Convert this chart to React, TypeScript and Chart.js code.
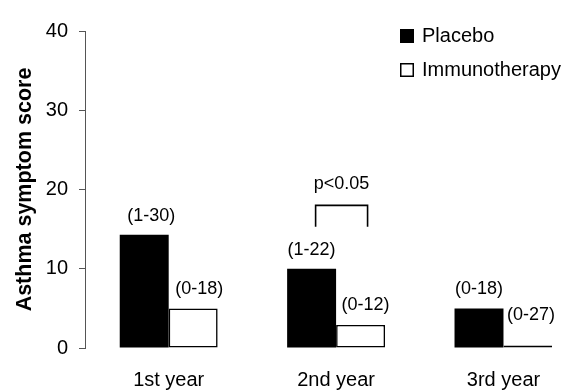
import React, { useEffect, useRef } from "react";
import { Chart, registerables } from "chart.js";

Chart.register(...registerables);

const categories = ["1st year", "2nd year", "3rd year"];
const placebo = [14.3, 10.0, 5.0];
const immunotherapy = [5.0, 2.9, 0.3];
const placeboRanges = ["(1-30)", "(1-22)", "(0-18)"];
const immunoRanges = ["(0-18)", "(0-12)", "(0-27)"];
const yTickStep = 10;
const yMax = 40;
const sigGroup = 1;
const sigText = "p<0.05";
const sigBracketTop = 18;
const sigBracketBottom = 15.3;
const sigTextValue = 20.7;

// label offsets (style): [dx, dy] relative to bar top centre
const placeboLabelOffsets = [[7, -19], [0, -19], [0, -19]];
const immunoLabelOffsets = [[6, -19], [5, -20], [3, -31]];

const FONT = "'Liberation Sans', Arial, Helvetica, sans-serif";

const annotationPlugin = {
  id: "annotations",
  afterDatasetsDraw(chart: any) {
    const ctx = chart.ctx;
    ctx.save();
    ctx.fillStyle = "#000";
    ctx.font = `18px ${FONT}`;
    ctx.textAlign = "center";
    ctx.textBaseline = "middle";
    const sets = [
      { meta: chart.getDatasetMeta(0), labels: placeboRanges, offs: placeboLabelOffsets },
      { meta: chart.getDatasetMeta(1), labels: immunoRanges, offs: immunoLabelOffsets },
    ];
    sets.forEach(({ meta, labels, offs }) => {
      meta.data.forEach((el: any, i: number) => {
        ctx.fillText(labels[i], el.x + offs[i][0], el.y + offs[i][1]);
      });
    });
    // significance bracket
    const yScale = chart.scales.y;
    const a = chart.getDatasetMeta(0).data[sigGroup];
    const b = chart.getDatasetMeta(1).data[sigGroup];
    const x1 = a.x + 4;
    const x2 = b.x + 7;
    const yTop = yScale.getPixelForValue(sigBracketTop);
    const yBot = yScale.getPixelForValue(sigBracketBottom);
    ctx.strokeStyle = "#000";
    ctx.lineWidth = 1.6;
    ctx.beginPath();
    ctx.moveTo(x1, yBot);
    ctx.lineTo(x1, yTop);
    ctx.lineTo(x2, yTop);
    ctx.lineTo(x2, yBot);
    ctx.stroke();
    ctx.fillText(sigText, (x1 + x2) / 2, yScale.getPixelForValue(sigTextValue));

    // legend
    const items = chart.data.datasets;
    const lx = 392;
    const rowsY = [28, 62];
    ctx.textAlign = "left";
    ctx.font = `20px ${FONT}`;
    items.forEach((ds: any, i: number) => {
      const cy = rowsY[i];
      ctx.fillStyle = ds.backgroundColor;
      ctx.fillRect(lx, cy - 7, 14, 14);
      ctx.strokeStyle = "#000";
      ctx.lineWidth = 1.5;
      ctx.strokeRect(lx + 0.75, cy - 6.25, 12.5, 12.5);
      ctx.fillStyle = "#000";
      ctx.fillText(ds.label, lx + 22, cy);
    });
    ctx.restore();
  },
};

export default function App() {
  const ref = useRef<HTMLCanvasElement | null>(null);
  useEffect(() => {
    if (!ref.current) return;
    const chart = new Chart(ref.current, {
      type: "bar",
      data: {
        datasets: [
          {
            label: "Placebo",
            data: placebo.map((v, i) => ({ x: i, y: v })),
            backgroundColor: "#000000",
            borderColor: "#000000",
            borderWidth: 0,
          },
          {
            label: "Immunotherapy",
            data: immunotherapy.map((v, i) => ({ x: i, y: v })),
            backgroundColor: "#ffffff",
            borderColor: "#000000",
            borderWidth: 1.6,
            borderSkipped: false,
          },
        ],
      },
      options: {
        responsive: false,
        animation: false,
        categoryPercentage: 0.585,
        barPercentage: 1,
        layout: { padding: { top: 15, right: 8, left: 0, bottom: 0 } },
        plugins: { legend: { display: false }, tooltip: { enabled: false } },
        scales: {
          x: {
            type: "linear",
            offset: false,
            min: -0.5,
            max: 2.29,
            grid: { display: false, drawTicks: false, offset: false },
            border: { display: false },
            ticks: {
              font: { family: FONT, size: 20 },
              color: "#000",
              padding: 20,
              autoSkip: false,
              maxRotation: 0,
              callback: (v: any) => categories[v] ?? "",
            },
            afterBuildTicks: (scale: any) => {
              scale.ticks = categories.map((_, i) => ({ value: i }));
            },
            afterFit: (scale: any) => {
              scale.height = 43;
            },
          },
          y: {
            min: 0,
            max: yMax,
            ticks: {
              stepSize: yTickStep,
              font: { family: FONT, size: 20 },
              color: "#000",
              padding: 11,
            },
            grid: { drawOnChartArea: false, drawTicks: true, tickLength: 6, color: "#555" },
            border: { color: "#555", width: 1 },
            title: {
              display: true,
              text: "Asthma symptom score",
              font: { family: FONT, size: 21.5, weight: "bold" },
              color: "#000",
              padding: { top: 4, bottom: 0 },
            },
            afterFit: (scale: any) => {
              scale.width = 77;
            },
          },
        },
      } as any,
      plugins: [annotationPlugin],
    });
    return () => chart.destroy();
  }, []);
  return <canvas ref={ref} width={553} height={383} />;
}
